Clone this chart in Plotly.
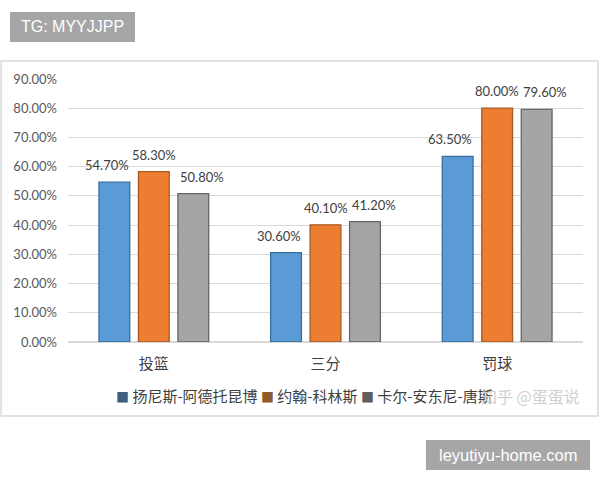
import plotly.graph_objects as go

categories = ["投篮", "三分", "罚球"]
players = ["扬尼斯-阿德托昆博", "约翰-科林斯", "卡尔-安东尼-唐斯"]
giannis = [0.547, 0.306, 0.635]
collins = [0.583, 0.401, 0.800]
towns = [0.508, 0.412, 0.796]
y_ticks = [0, 0.1, 0.2, 0.3, 0.4, 0.5, 0.6, 0.7, 0.8, 0.9]

FILL = ["#5B9BD5", "#ED7D31", "#A5A5A5"]
EDGE = ["#3A6E9E", "#A85A22", "#666666"]
KEY = ["#3E5F80", "#8E5A2E", "#5E5E5E"]
FONT = "Lato, Noto Sans CJK SC, sans-serif"

# pixel offsets of each series' label from the category centre (Excel nudges them apart)
LABEL_SHIFT = [-47, 0, 48]

fig = go.Figure()

annotations = []
for i, (name, vals) in enumerate(zip(players, [giannis, collins, towns])):
    fig.add_trace(
        go.Bar(
            x=categories,
            y=vals,
            name=name,
            marker=dict(color=FILL[i], line=dict(color=EDGE[i], width=1.3)),
        )
    )
    for cat, v in zip(categories, vals):
        annotations.append(
            dict(
                x=cat, y=v, xref="x", yref="y",
                text=f"{v * 100:.2f}%",
                showarrow=False,
                xanchor="center", yanchor="middle",
                xshift=LABEL_SHIFT[i], yshift=17,
                font=dict(size=13, color="#404040", family=FONT),
            )
        )

# legend drawn as one line of text with small coloured squares, like the Excel one
legend_text = " ".join(
    f"<span style='color:{KEY[i]};font-size:13px'>■</span> {name}"
    for i, name in enumerate(players)
)

# plot area on x 68..583, y 79..342
fig.update_layout(
    width=600,
    height=480,
    margin=dict(l=68, r=17, t=79, b=138),
    paper_bgcolor="white",
    plot_bgcolor="white",
    barmode="group",
    bargap=0.31,
    bargroupgap=0.22,
    font=dict(family=FONT, color="#404040"),
    showlegend=False,
    xaxis=dict(
        automargin=False,
        showline=False,
        showgrid=False,
        ticks="",
        ticklabelstandoff=11,
        tickfont=dict(size=15, color="#404040", family="Noto Sans CJK SC"),
    ),
    yaxis=dict(
        automargin=False,
        range=[0, 0.9],
        tickvals=y_ticks,
        tickformat=".2%",
        showgrid=True,
        gridcolor="#D9D9D9",
        gridwidth=1,
        zeroline=True,
        zerolinecolor="#D9D9D9",
        showline=False,
        ticks="",
        ticklabelstandoff=10,
        tickfont=dict(size=13, color="#595959", family=FONT),
    ),
    shapes=[
        # outer chart frame
        dict(
            type="rect", xref="paper", yref="paper",
            x0=-0.130, x1=1.029, y0=-0.281, y1=1.068,
            line=dict(color="#D9D9D9", width=1.5),
            fillcolor="rgba(0,0,0,0)", layer="below",
        ),
        dict(
            type="rect", xref="paper", yref="paper",
            x0=-0.1126, x1=0.1301, y0=1.1407, y1=1.2548,
            line=dict(width=0), fillcolor="#A6A6A6",
        ),
        dict(
            type="rect", xref="paper", yref="paper",
            x0=0.695, x1=1.0136, y0=-0.4867, y1=-0.3726,
            line=dict(width=0), fillcolor="#A6A6A6",
        ),
    ],
    annotations=annotations + [
        dict(
            text="TG: MYYJJPP", xref="paper", yref="paper",
            x=0.0087, y=1.198, xanchor="center", yanchor="middle",
            showarrow=False,
            font=dict(size=16, color="white", family="Liberation Sans"),
        ),
        dict(
            text="leyutiyu-home.com", xref="paper", yref="paper",
            x=0.854, y=-0.4297, xanchor="center", yanchor="middle",
            showarrow=False,
            font=dict(size=16.5, color="white", family="Liberation Sans"),
        ),
        dict(
            text=legend_text, xref="paper", yref="paper",
            x=0.089, y=-0.205, xanchor="left", yanchor="middle",
            showarrow=False,
            font=dict(size=15, color="#404040", family="Noto Sans CJK SC"),
        ),
        dict(
            text="知乎 @蛋蛋说", xref="paper", yref="paper",
            x=0.899, y=-0.205, xanchor="center", yanchor="middle",
            showarrow=False,
            font=dict(size=16, color="#D0D0D0", family="Noto Sans CJK SC"),
        ),
    ],
)

# drop the browser's default 8px body margin so the figure sits at the window corner
fig.write_html(
    "out.html",
    config={"displayModeBar": False},
    post_script="document.body.style.margin = '0';",
)
